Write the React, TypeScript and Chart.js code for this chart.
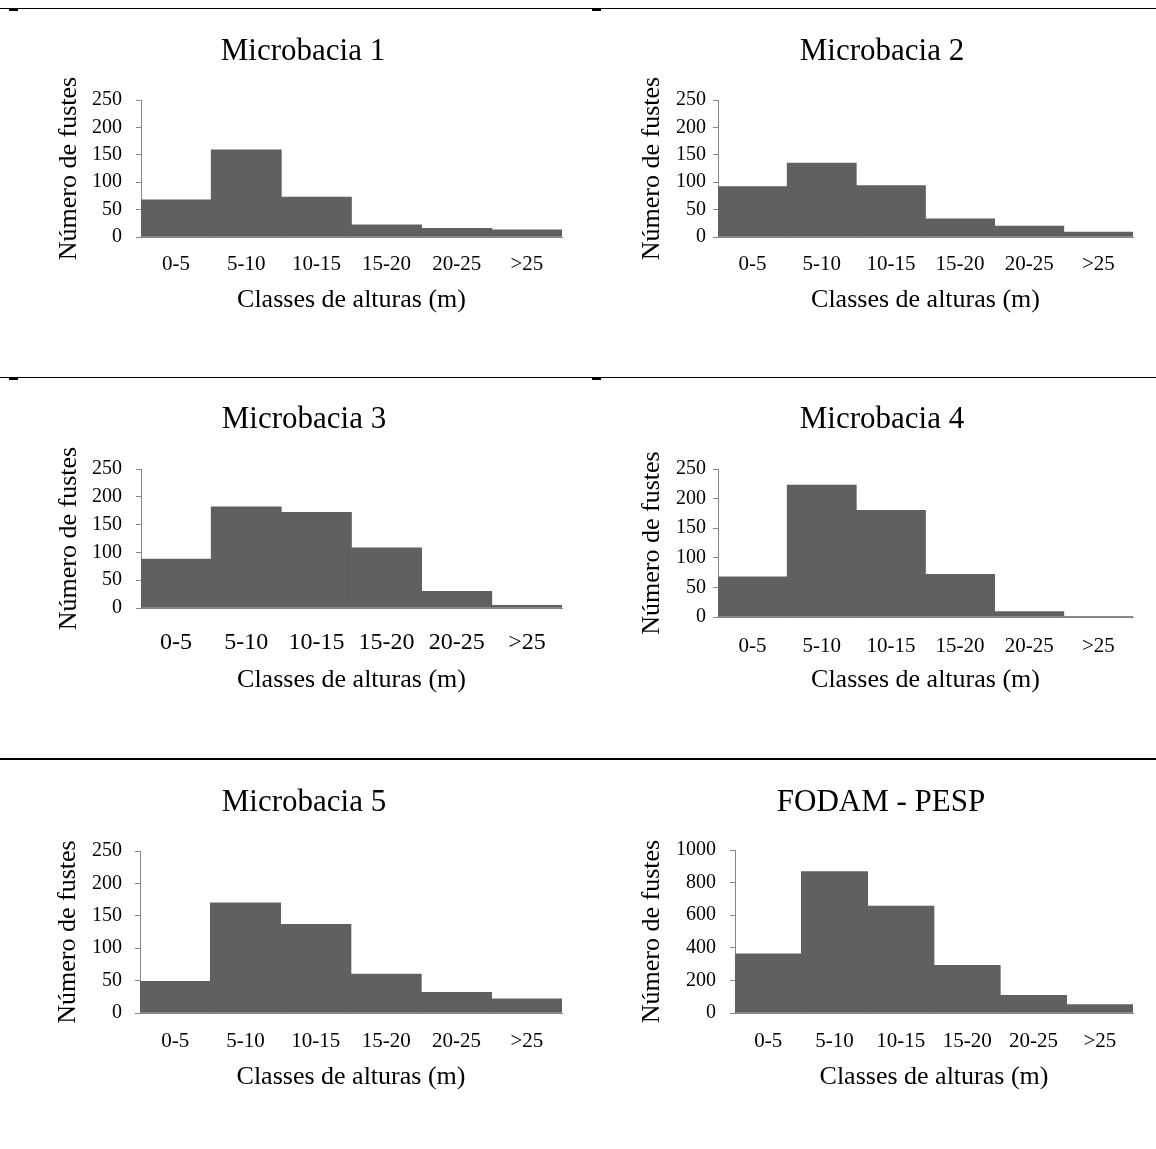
import React, { useEffect, useRef } from "react";
import { Chart, registerables } from "chart.js";

Chart.register(...registerables);

// ---------- data ----------
const heightClasses = ["0-5", "5-10", "10-15", "15-20", "20-25", ">25"];
const microbacia1 = [68, 159, 73, 22, 16, 13];
const microbacia2 = [92, 135, 94, 33, 20, 9];
const microbacia3 = [88, 182, 172, 108, 30, 5];
const microbacia4 = [68, 223, 180, 72, 9, 1];
const microbacia5 = [49, 170, 137, 60, 32, 22];
const fodamPesp = [363, 867, 656, 293, 109, 51];

const panelTitles = ["Microbacia 1", "Microbacia 2", "Microbacia 3", "Microbacia 4", "Microbacia 5", "FODAM - PESP"];
const panelSeries = [microbacia1, microbacia2, microbacia3, microbacia4, microbacia5, fodamPesp];
const yMaxes = [250, 250, 250, 250, 250, 1000];
const ySteps = [50, 50, 50, 50, 50, 200];
const xAxisTitle = "Classes de alturas (m)";
const yAxisTitle = "Número de fustes";

// ---------- layout (absolute page pixels) ----------
type Geo = {
  ox: number; oy: number; axisX: number; right: number; top: number; bottom: number;
  titleX: number; titleY: number; xTickY: number; xTitleY: number; yTitleX: number;
  yLabelRight: number; xTickSize: number;
};
const geos: Geo[] = [
  { ox: 0, oy: 0, axisX: 141, right: 562, top: 100, bottom: 237, titleX: 303, titleY: 52, xTickY: 264, xTitleY: 300, yTitleX: 69, yLabelRight: 122, xTickSize: 21 },
  { ox: 578, oy: 0, axisX: 718, right: 1133, top: 100, bottom: 237, titleX: 882, titleY: 52, xTickY: 264, xTitleY: 300, yTitleX: 652, yLabelRight: 706, xTickSize: 21 },
  { ox: 0, oy: 370, axisX: 141, right: 562, top: 469, bottom: 608, titleX: 304, titleY: 420, xTickY: 643, xTitleY: 680, yTitleX: 69, yLabelRight: 122, xTickSize: 24 },
  { ox: 578, oy: 370, axisX: 718, right: 1133, top: 469, bottom: 617, titleX: 882, titleY: 420, xTickY: 646, xTitleY: 680, yTitleX: 652, yLabelRight: 706, xTickSize: 21 },
  { ox: 0, oy: 755, axisX: 140, right: 562, top: 851, bottom: 1013, titleX: 304, titleY: 803, xTickY: 1041, xTitleY: 1077, yTitleX: 68, yLabelRight: 122, xTickSize: 21 },
  { ox: 578, oy: 755, axisX: 735, right: 1133, top: 850, bottom: 1013, titleX: 881, titleY: 803, xTickY: 1041, xTitleY: 1077, yTitleX: 652, yLabelRight: 716, xTickSize: 21 },
];

const CW = 578;
const CH = 345;
const FONT = '"Liberation Serif", "Times New Roman", serif';
const TITLE_SIZE = 31;
const AXIS_TITLE_SIZE = 26;
const Y_TICK_SIZE = 20;
const TICK_LEN = 5;
const AXIS_COLOR = "#868686";
const BAR_COLOR = "#606060";

function Panel({ idx }: { idx: number }) {
  const ref = useRef<HTMLCanvasElement | null>(null);
  const g = geos[idx];

  useEffect(() => {
    if (!ref.current) return;
    const titleLH = TITLE_SIZE * 1.2;
    const axLH = AXIS_TITLE_SIZE * 1.2;
    const xTickLH = g.xTickSize * 1.2;
    const rightC = g.right - g.ox;
    const padLeft = 2 * (g.titleX - g.ox) - rightC;
    const padRight = CW - rightC;
    const yWidth = g.axisX - g.ox - padLeft;
    const titlePadTop = g.titleY - g.oy - titleLH / 2;
    const titlePadBottom = g.top - g.oy - titlePadTop - titleLH;
    const xHeight = CH - (g.bottom - g.oy);
    const xTickPad = g.xTickY - g.bottom - xTickLH / 2;
    const xTitlePadBottom = CH - (g.xTitleY - g.oy) - axLH / 2;
    const yTitlePadTop = g.yTitleX - g.ox - padLeft - axLH / 2;
    const yTickPad = g.axisX - TICK_LEN - g.yLabelRight;

    const chart = new Chart(ref.current, {
      type: "bar",
      data: {
        labels: heightClasses,
        datasets: [
          {
            data: panelSeries[idx],
            backgroundColor: BAR_COLOR,
            borderWidth: 0,
            barPercentage: 1,
            categoryPercentage: 1,
          },
        ],
      },
      options: {
        responsive: false,
        animation: false,
        devicePixelRatio: 1,
        layout: { padding: { left: padLeft, right: padRight, top: 0, bottom: 0 } },
        plugins: {
          legend: { display: false },
          tooltip: { enabled: false },
          title: {
            display: true,
            text: panelTitles[idx],
            color: "#000",
            font: { family: FONT, size: TITLE_SIZE, weight: "normal" },
            padding: { top: titlePadTop, bottom: titlePadBottom },
          },
        },
        scales: {
          x: {
            offset: true,
            grid: { display: false, drawTicks: false },
            border: { display: true, color: AXIS_COLOR, width: 1 },
            ticks: {
              color: "#000",
              padding: xTickPad,
              maxRotation: 0,
              autoSkip: false,
              font: { family: FONT, size: g.xTickSize },
            },
            title: {
              display: true,
              text: xAxisTitle,
              color: "#000",
              font: { family: FONT, size: AXIS_TITLE_SIZE },
              padding: { top: 0, bottom: xTitlePadBottom },
            },
            afterFit: (s: any) => {
              s.height = xHeight;
            },
          },
          y: {
            min: 0,
            max: yMaxes[idx],
            grid: {
              display: true,
              drawOnChartArea: false,
              drawTicks: true,
              tickLength: TICK_LEN,
              color: AXIS_COLOR,
            },
            border: { display: true, color: AXIS_COLOR, width: 1 },
            ticks: {
              stepSize: ySteps[idx],
              color: "#000",
              padding: yTickPad,
              font: { family: FONT, size: Y_TICK_SIZE },
              callback: (v: any) => String(v),
            },
            title: {
              display: true,
              text: yAxisTitle,
              color: "#000",
              font: { family: FONT, size: AXIS_TITLE_SIZE },
              padding: { top: yTitlePadTop, bottom: 0 },
            },
            afterFit: (s: any) => {
              s.width = yWidth;
            },
          },
        },
      },
    });
    return () => chart.destroy();
  }, [idx]);

  return (
    <canvas
      ref={ref}
      width={CW}
      height={CH}
      style={{ position: "absolute", left: g.ox, top: g.oy, width: CW, height: CH }}
    />
  );
}

function Rule({ x, y, w, h }: { x: number; y: number; w: number; h: number }) {
  return <div style={{ position: "absolute", left: x, top: y, width: w, height: h, background: "#000" }} />;
}

export default function App() {
  return (
    <div style={{ position: "absolute", left: 0, top: 0, width: 1156, height: 1149, background: "#fff", overflow: "hidden" }}>
      <Rule x={0} y={8} w={1156} h={1} />
      <Rule x={9} y={9} w={9} h={2} />
      <Rule x={592} y={9} w={9} h={2} />
      <Rule x={0} y={377} w={1156} h={1} />
      <Rule x={9} y={378} w={9} h={2} />
      <Rule x={592} y={378} w={9} h={2} />
      <Rule x={0} y={758} w={1156} h={2} />
      {panelTitles.map((_, i) => (
        <Panel key={i} idx={i} />
      ))}
    </div>
  );
}
